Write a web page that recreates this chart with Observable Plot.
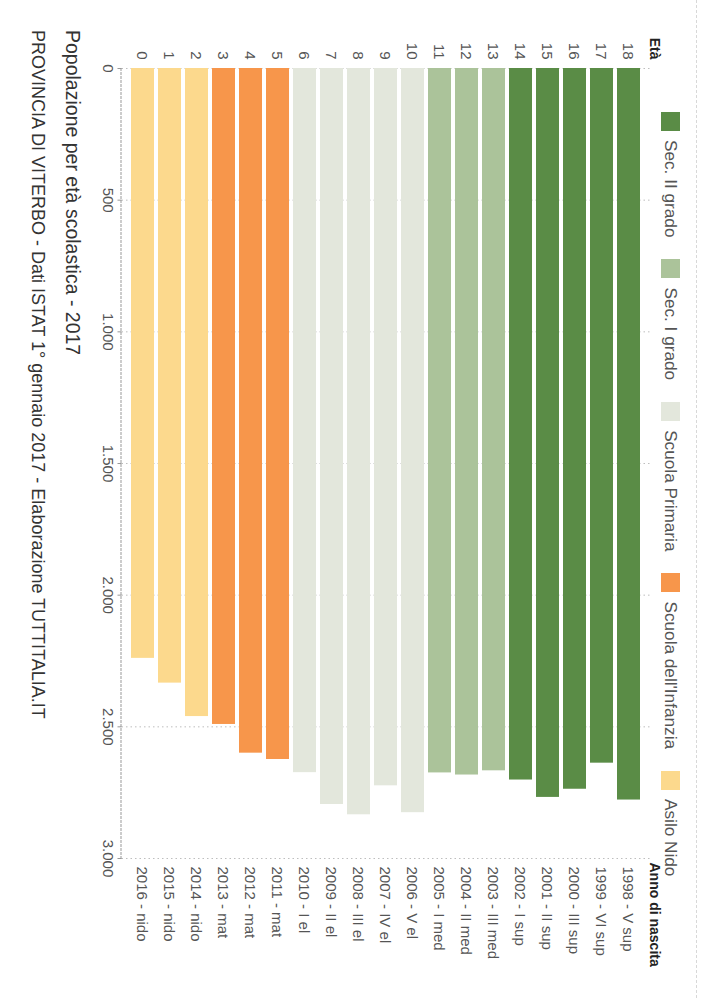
<!DOCTYPE html>
<html>
<head>
<meta charset="utf-8">
<script src="https://cdn.jsdelivr.net/npm/d3@7"></script>
<script src="https://cdn.jsdelivr.net/npm/@observablehq/plot@0.6"></script>
<style>
  html, body { margin: 0; padding: 0; background: #fff; overflow: hidden; }
  body { width: 707px; height: 998px; position: relative; font-family: "Liberation Sans", Arial, sans-serif; }
  #chart {
    position: absolute; left: 0; top: 0; width: 998px; height: 707px;
    transform-origin: 0 0; transform: translate(707px, 0) rotate(90deg);
    background: #fff;
  }
  #border { position: absolute; left: 0; right: 0; top: 10px; border-top: 1px dashed #d8d8d8; }
  #legend { position: absolute; left: 112px; top: 26px; display: flex; align-items: center; font-size: 17.2px; color: #555; }
  #legend .item { display: flex; align-items: center; margin-right: 22px; }
  #legend .sw { width: 19px; height: 19px; margin-right: 9px; }
  #plot { position: absolute; left: 0; top: 40px; }
  #title { position: absolute; left: 30px; top: 623px; font-size: 19.5px; color: #333; white-space: nowrap; }
  #subtitle { position: absolute; left: 30px; top: 659px; font-size: 18px; color: #333; white-space: nowrap; }
</style>
</head>
<body>
<div id="chart">
  <div id="border"></div>
  <div id="legend"></div>
  <div id="plot"></div>
  <div id="title"></div>
  <div id="subtitle"></div>
</div>
<script>
const titleText = "Popolazione per età scolastica - 2017";
const subtitleText = "PROVINCIA DI VITERBO - Dati ISTAT 1° gennaio 2017 - Elaborazione TUTTITALIA.IT";

const ages = [0, 1, 2, 3, 4, 5, 6, 7, 8, 9, 10, 11, 12, 13, 14, 15, 16, 17, 18];
const birthLabels = [
  "2016 - nido", "2015 - nido", "2014 - nido", "2013 - mat", "2012 - mat", "2011 - mat",
  "2010 - I el", "2009 - II el", "2008 - III el", "2007 - IV el", "2006 - V el",
  "2005 - I med", "2004 - II med", "2003 - III med",
  "2002 - I sup", "2001 - II sup", "2000 - III sup", "1999 - VI sup", "1998 - V sup"
];
const population = [2240, 2334, 2461, 2491, 2600, 2624, 2674, 2795, 2834, 2724, 2826, 2675, 2683, 2667, 2702, 2768, 2737, 2638, 2778];
const levelOfAge = [
  "Asilo Nido", "Asilo Nido", "Asilo Nido",
  "Scuola dell'Infanzia", "Scuola dell'Infanzia", "Scuola dell'Infanzia",
  "Scuola Primaria", "Scuola Primaria", "Scuola Primaria", "Scuola Primaria", "Scuola Primaria",
  "Sec. I grado", "Sec. I grado", "Sec. I grado",
  "Sec. II grado", "Sec. II grado", "Sec. II grado", "Sec. II grado", "Sec. II grado"
];
const levelNames = ["Sec. II grado", "Sec. I grado", "Scuola Primaria", "Scuola dell'Infanzia", "Asilo Nido"];
const levelColors = ["#5a8c46", "#abc39a", "#e3e7dc", "#f7964b", "#fcd98d"];
const xTicks = [0, 500, 1000, 1500, 2000, 2500, 3000];
const yLabelLeft = "Età";
const yLabelRight = "Anno di nascita";

const data = ages.map((a, i) => ({age: a, pop: population[i], level: levelOfAge[i]}));
const itFmt = d => d3.format(",")(d).replace(/,/g, ".");

document.getElementById("title").textContent = titleText;
document.getElementById("subtitle").textContent = subtitleText;

const legend = document.getElementById("legend");
levelNames.forEach((name, i) => {
  const item = document.createElement("div");
  item.className = "item";
  const sw = document.createElement("span");
  sw.className = "sw";
  sw.style.background = levelColors[i];
  const t = document.createElement("span");
  t.textContent = name;
  item.appendChild(sw);
  item.appendChild(t);
  legend.appendChild(item);
});

const plot = Plot.plot({
  width: 998,
  height: 580,
  marginTop: 17.5,
  marginBottom: 34.5,
  marginLeft: 68,
  marginRight: 140,
  style: {fontFamily: "'Liberation Sans', Arial, sans-serif", fontSize: "15px", color: "#555", background: "transparent"},
  x: {domain: [0, 3000], ticks: xTicks},
  y: {domain: ages.slice().reverse(), padding: 0.165},
  color: {domain: levelNames, range: levelColors},
  marks: [
    Plot.gridX(xTicks, {stroke: "#888", strokeOpacity: 0.55, strokeDasharray: "1.5,3"}),
    Plot.frame({anchor: "bottom", stroke: "#999", strokeDasharray: "2,2"}),
    Plot.barX(data, {x: "pop", y: "age", fill: "level"}),
    Plot.axisX(xTicks, {tickFormat: itFmt, tickSize: 4, tickPadding: 3, label: null, stroke: "#999", fill: "#555"}),
    Plot.axisY({anchor: "left", tickSize: 0, tickPadding: 9, label: null, fill: "#555"}),
    Plot.axisY({anchor: "right", tickSize: 0, tickPadding: 8, label: null, fill: "#555", tickFormat: d => birthLabels[d]}),
    Plot.text([yLabelLeft], {frameAnchor: "top-left", textAnchor: "end", lineAnchor: "bottom", dx: -9, dy: -1, fontWeight: "bold", fill: "#222", fontSize: 14}),
    Plot.text([yLabelRight], {frameAnchor: "top-right", textAnchor: "start", lineAnchor: "bottom", dx: 4, dy: -1, fontWeight: "bold", fill: "#222", fontSize: 14})
  ]
});
document.getElementById("plot").appendChild(plot);
</script>
</body>
</html>
